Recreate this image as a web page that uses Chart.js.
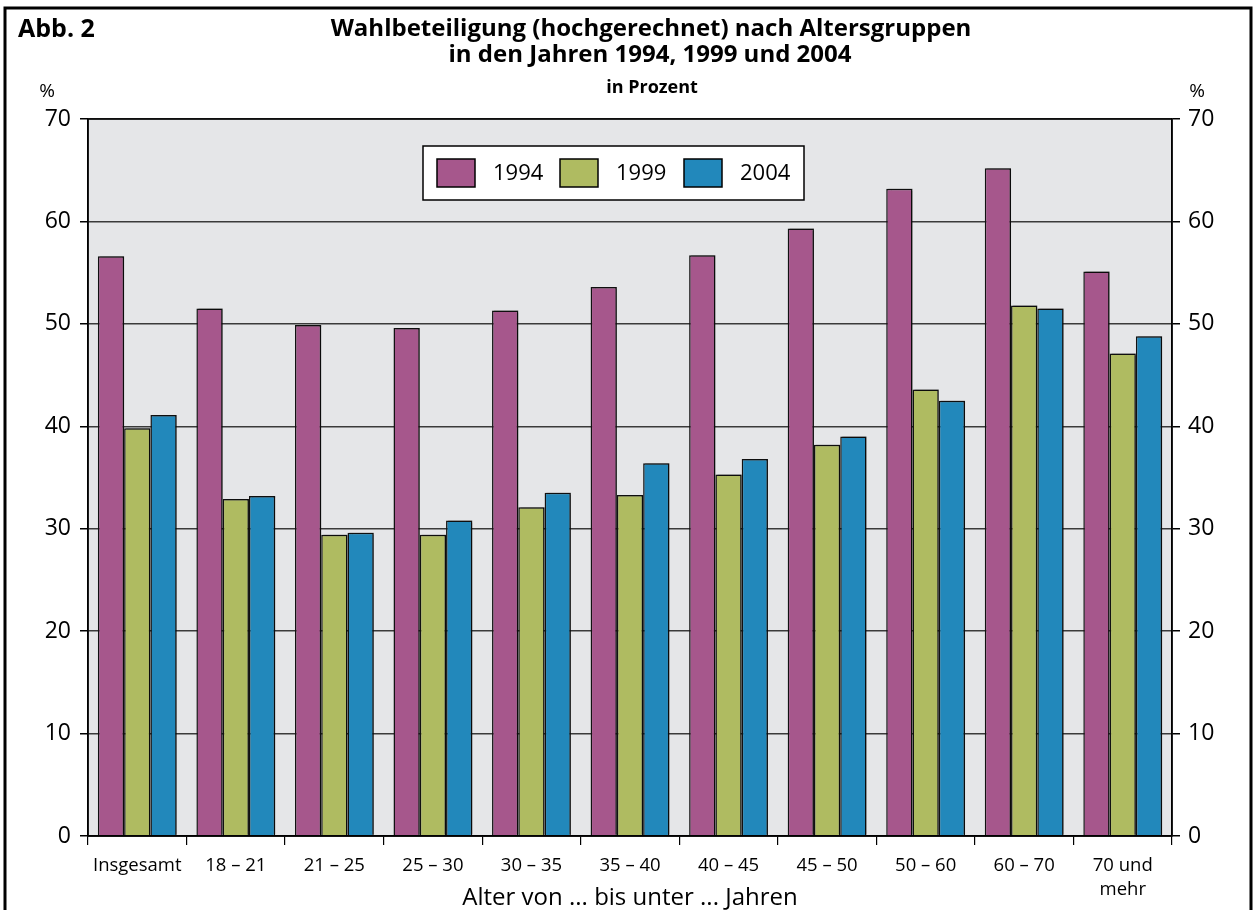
<!DOCTYPE html>
<html lang="de">
<head>
<meta charset="utf-8">
<title>Wahlbeteiligung nach Altersgruppen</title>
<script src="https://cdn.jsdelivr.net/npm/chart.js@4.4.1/dist/chart.umd.min.js"></script>
<style>
  html, body { margin: 0; padding: 0; background: #fff; }
  #wrap { width: 1254px; height: 910px; }
</style>
</head>
<body>
<div id="wrap"><canvas id="wahlChart" width="1254" height="910"></canvas></div>
<script>
// Daten
const categories = ['Insgesamt', '18 – 21', '21 – 25', '25 – 30', '30 – 35', '35 – 40',
  '40 – 45', '45 – 50', '50 – 60', '60 – 70', ['70 und', 'mehr']];
const years = ['1994', '1999', '2004'];
const values1994 = [56.6, 51.5, 49.9, 49.6, 51.3, 53.6, 56.7, 59.3, 63.2, 65.2, 55.1];
const values1999 = [39.8, 32.9, 29.4, 29.4, 32.1, 33.3, 35.3, 38.2, 43.6, 51.8, 47.1];
const values2004 = [41.1, 33.2, 29.6, 30.8, 33.5, 36.4, 36.8, 39.0, 42.5, 51.5, 48.8];
const yTicks = [0, 10, 20, 30, 40, 50, 60, 70];

const colors = ['#a6578c', '#afbb61', '#2288bb'];
const FONT = "'Open Sans', 'Noto Sans', sans-serif";

// Hintergrund, Rahmen, Titel und Legende
const decorPlugin = {
  id: 'decor',
  beforeDraw(chart) {
    const ctx = chart.ctx;
    const a = chart.chartArea;
    ctx.save();
    ctx.fillStyle = '#e5e6e8';
    ctx.fillRect(a.left, a.top, a.right - a.left, a.bottom - a.top);
    ctx.restore();
  },
  beforeDatasetsDraw(chart) {
    const ctx = chart.ctx;
    ctx.save();
    ctx.shadowColor = 'rgba(0,0,0,0.35)';
    ctx.shadowOffsetX = 2;
    ctx.shadowOffsetY = -1;
    ctx.shadowBlur = 1;
  },
  afterDatasetsDraw(chart) {
    chart.ctx.restore();
  },
  afterDraw(chart) {
    const ctx = chart.ctx;
    const a = chart.chartArea;
    ctx.save();

    // Rahmen des Diagrammbereichs
    ctx.strokeStyle = '#000';
    ctx.lineWidth = 1.5;
    ctx.strokeRect(a.left, a.top, a.right - a.left, a.bottom - a.top);

    // äußerer Rahmen
    ctx.lineWidth = 3;
    ctx.beginPath();
    ctx.moveTo(5, 920);
    ctx.lineTo(5, 8);
    ctx.lineTo(1251, 8);
    ctx.lineTo(1251, 920);
    ctx.stroke();

    // Titel
    ctx.fillStyle = '#000';
    ctx.textBaseline = 'alphabetic';
    ctx.font = 'bold 25px ' + FONT;
    ctx.textAlign = 'left';
    ctx.fillText('Abb. 2', 18, 37);
    ctx.font = 'bold 24px ' + FONT;
    ctx.textAlign = 'center';
    ctx.fillText('Wahlbeteiligung (hochgerechnet) nach Altersgruppen', 651, 36);
    ctx.fillText('in den Jahren 1994, 1999 und 2004', 650, 62);
    ctx.font = 'bold 18px ' + FONT;
    ctx.fillText('in Prozent', 652, 93);
    ctx.font = '19px ' + FONT;
    ctx.fillText('%', 47, 97);
    ctx.fillText('%', 1197, 97);

    // Legende
    const box = { x: 423, y: 146, w: 381, h: 54 };
    ctx.fillStyle = '#fff';
    ctx.fillRect(box.x, box.y, box.w, box.h);
    ctx.lineWidth = 1.5;
    ctx.strokeStyle = '#000';
    ctx.strokeRect(box.x, box.y, box.w, box.h);
    const itemX = [437, 560, 684];
    ctx.font = '22px ' + FONT;
    ctx.textAlign = 'left';
    ctx.textBaseline = 'middle';
    chart.data.datasets.forEach(function (ds, i) {
      ctx.fillStyle = ds.backgroundColor;
      ctx.fillRect(itemX[i], 159, 38, 28);
      ctx.strokeStyle = '#000';
      ctx.strokeRect(itemX[i], 159, 38, 28);
      ctx.fillStyle = '#000';
      ctx.fillText(ds.label, itemX[i] + 56, 174);
    });
    ctx.restore();
  }
};

const ctx = document.getElementById('wahlChart').getContext('2d');
const wahlChart = new Chart(ctx, {
  type: 'bar',
  data: {
    labels: categories,
    datasets: [
      { label: years[0], data: values1994, backgroundColor: colors[0] },
      { label: years[1], data: values1999, backgroundColor: colors[1] },
      { label: years[2], data: values2004, backgroundColor: colors[2] }
    ].map(function (ds) {
      ds.borderColor = '#111';
      ds.borderWidth = 1.5;
      ds.categoryPercentage = 0.8;
      ds.barPercentage = 1.0;
      return ds;
    })
  },
  options: {
    responsive: false,
    devicePixelRatio: 1,
    animation: false,
    layout: { padding: { top: 119, left: 0, right: 0, bottom: 0 } },
    plugins: {
      legend: { display: false },
      title: { display: false },
      tooltip: { enabled: false }
    },
    scales: {
      x: {
        grid: {
          offset: true,
          drawOnChartArea: false,
          drawTicks: true,
          tickLength: 9,
          color: '#000',
          lineWidth: 1.2
        },
        border: { display: true, color: '#000', width: 1.5 },
        ticks: {
          color: '#000',
          font: { family: FONT, size: 18.5, lineHeight: 1.3 },
          padding: 9,
          maxRotation: 0,
          autoSkip: false
        },
        title: {
          display: true,
          text: 'Alter von ... bis unter ... Jahren',
          color: '#000',
          font: { family: FONT, size: 24 },
          padding: { top: 0, bottom: -3 }
        },
        afterFit(scale) { scale.height = 74; }
      },
      y: {
        position: 'left',
        min: 0,
        max: 70,
        afterBuildTicks(scale) { scale.ticks = yTicks.map(function (v) { return { value: v }; }); },
        grid: {
          color: '#3a3a3a',
          lineWidth: 1.5,
          drawTicks: true,
          tickLength: 8,
          tickColor: '#000'
        },
        border: { display: true, color: '#000', width: 1.5 },
        ticks: {
          color: '#000',
          font: { family: FONT, size: 23 },
          padding: 9
        },
        afterFit(scale) { scale.width = 88; }
      },
      y2: {
        position: 'right',
        min: 0,
        max: 70,
        afterBuildTicks(scale) { scale.ticks = yTicks.map(function (v) { return { value: v }; }); },
        grid: {
          drawOnChartArea: false,
          drawTicks: true,
          tickLength: 8,
          color: '#000',
          lineWidth: 1.5
        },
        border: { display: true, color: '#000', width: 1.5 },
        ticks: {
          color: '#000',
          font: { family: FONT, size: 23 },
          padding: 8
        },
        afterFit(scale) { scale.width = 82; }
      }
    }
  },
  plugins: [decorPlugin]
});
</script>
</body>
</html>
